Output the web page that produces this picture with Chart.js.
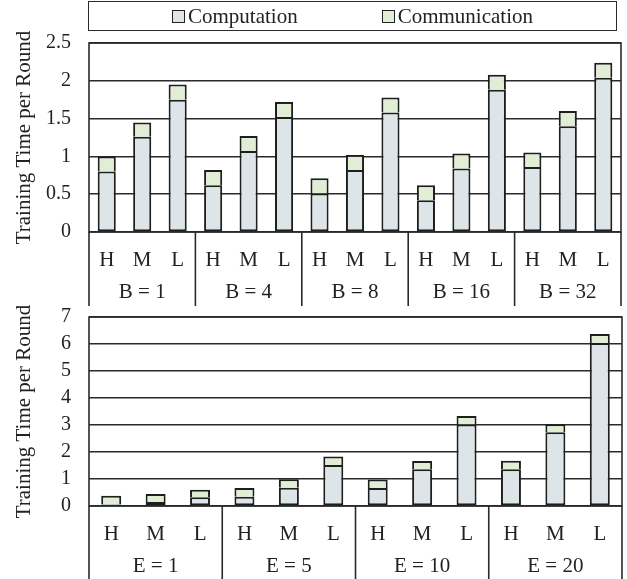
<!DOCTYPE html>
<html>
<head>
<meta charset="utf-8">
<script src="https://cdn.jsdelivr.net/npm/chart.js@4.4.0/dist/chart.umd.min.js"></script>
<style>
    body { margin: 0; background: #fff; }
    #wrap { position: relative; width: 627px; height: 579px; overflow: hidden; }
    canvas { position: absolute; left: 0; }
    #legend {
        position: absolute; left: 88px; top: 1px; width: 527px; height: 28px;
        border: 1.5px solid #2a2a2a; box-sizing: content-box;
        display: flex; justify-content: center; align-items: center; gap: 84px;
        font: 21px "Liberation Serif", "Times New Roman", serif; color: #222;
        z-index: 2;
    }
    #legend .item { display: flex; align-items: center; }
    #legend .box { width: 11px; height: 11px; border: 1.5px solid #222; margin-right: 3px; }
</style>
</head>
<body>
<div id="wrap">
    <div id="legend"></div>
    <canvas id="topChart" width="627" height="310" style="top:0;width:627px;height:310px"></canvas>
    <canvas id="bottomChart" width="627" height="292" style="top:287px;width:627px;height:292px"></canvas>
</div>
<script>
// Data
const levels = ['H', 'M', 'L'];

const batchGroups = ['B = 1', 'B = 4', 'B = 8', 'B = 16', 'B = 32'];
const batchComputation = [0.80, 1.26, 1.75, 0.62, 1.07, 1.52, 0.51, 0.82, 1.58, 0.42, 0.84, 1.88, 0.86, 1.40, 2.04];
const batchCommunication = [0.20, 0.19, 0.20, 0.20, 0.20, 0.20, 0.20, 0.20, 0.20, 0.20, 0.20, 0.20, 0.19, 0.20, 0.20];
const batchTicks = { max: 2.5, step: 0.5 };

const epochGroups = ['E = 1', 'E = 5', 'E = 10', 'E = 20'];
const epochComputation = [0.06, 0.15, 0.32, 0.345, 0.68, 1.52, 0.67, 1.36, 3.02, 1.36, 2.73, 6.04];
const epochCommunication = [0.32, 0.295, 0.285, 0.32, 0.31, 0.31, 0.31, 0.31, 0.31, 0.32, 0.30, 0.33];
const epochTicks = { max: 7, step: 1 };

const seriesNames = ['Computation', 'Communication'];
const seriesColors = ['#dde5e9', '#e2edd5'];

const FONT = '"Liberation Serif", "Times New Roman", serif';
const INK = '#222';
const LINE = '#2a2a2a';

// Draws the frame round the plot area, the group separators and the group labels
const groupPlugin = {
    id: 'groups',
    afterDraw(chart, args, opts) {
        const { ctx, chartArea } = chart;
        const xs = chart.scales.x;
        const n = chart.data.labels.length;
        const per = n / opts.groups.length;
        const step = xs.getPixelForValue(1) - xs.getPixelForValue(0);
        ctx.save();
        ctx.strokeStyle = LINE;
        ctx.lineWidth = 1.6;
        ctx.strokeRect(chartArea.left, chartArea.top, chartArea.right - chartArea.left, chartArea.bottom - chartArea.top);
        for (let k = 0; k <= opts.groups.length; k++) {
            const x = k < opts.groups.length
                ? xs.getPixelForValue(k * per) - step / 2
                : xs.getPixelForValue(n - 1) + step / 2;
            ctx.beginPath();
            ctx.moveTo(x, chartArea.bottom);
            ctx.lineTo(x, chartArea.bottom + opts.lineLength);
            ctx.stroke();
        }
        ctx.fillStyle = INK;
        ctx.font = '21px ' + FONT;
        ctx.textAlign = 'center';
        ctx.textBaseline = 'middle';
        opts.groups.forEach((g, k) => {
            const mid = (xs.getPixelForValue(k * per) + xs.getPixelForValue(k * per + per - 1)) / 2;
            ctx.fillText(g, mid, chartArea.bottom + 60);
        });
        ctx.restore();
    }
};

function buildChart(canvasId, groups, computation, communication, ticks, opts) {
    const labels = [];
    groups.forEach(() => levels.forEach(l => labels.push(l)));
    const ctx = document.getElementById(canvasId).getContext('2d');
    return new Chart(ctx, {
        type: 'bar',
        data: {
            labels: labels,
            datasets: [computation, communication].map((d, i) => ({
                label: seriesNames[i],
                data: d,
                backgroundColor: seriesColors[i],
                borderColor: '#1e1e1e',
                borderWidth: 2,
                // one shared edge between the two segments
                borderSkipped: i === 0 ? false : 'bottom',
                barPercentage: opts.barPercentage,
                categoryPercentage: 1
            }))
        },
        options: {
            responsive: false,
            animation: false,
            layout: { padding: opts.padding },
            plugins: {
                legend: { display: false },
                tooltip: { enabled: false },
                groups: { groups: groups, lineLength: opts.axisHeight }
            },
            scales: {
                x: {
                    stacked: true,
                    grid: { display: false },
                    border: { display: false },
                    ticks: { color: INK, font: { family: FONT, size: 21 }, padding: 8, maxRotation: 0, autoSkip: false },
                    afterFit: s => { s.height = opts.axisHeight; }
                },
                y: {
                    stacked: true,
                    min: 0,
                    max: ticks.max,
                    grid: { color: LINE, lineWidth: 1.5, drawTicks: false },
                    border: { display: false },
                    ticks: {
                        stepSize: ticks.step,
                        autoSkip: false,
                        color: INK,
                        font: { family: FONT, size: 20 },
                        padding: 18,
                        callback: v => String(Number(v.toFixed(2)))
                    },
                    title: {
                        display: true,
                        text: 'Training Time per Round',
                        color: INK,
                        font: { family: FONT, size: 21 },
                        padding: { top: 12, bottom: 0 }
                    },
                    afterFit: s => { s.width = 89; }
                }
            }
        },
        plugins: [groupPlugin]
    });
}

const topChart = buildChart('topChart', batchGroups, batchComputation, batchCommunication, batchTicks,
    { barPercentage: 0.51, axisHeight: 74, padding: { top: 43, right: 6, bottom: 4, left: 0 } });
buildChart('bottomChart', epochGroups, epochComputation, epochCommunication, epochTicks,
    { barPercentage: 0.45, axisHeight: 73, padding: { top: 0, right: 5, bottom: 0, left: 0 } });

// Legend built from the datasets of the top chart
const legend = document.getElementById('legend');
topChart.data.datasets.forEach(ds => {
    const item = document.createElement('div');
    item.className = 'item';
    const box = document.createElement('span');
    box.className = 'box';
    box.style.background = ds.backgroundColor;
    item.appendChild(box);
    item.appendChild(document.createTextNode(ds.label));
    legend.appendChild(item);
});
</script>
</body>
</html>
